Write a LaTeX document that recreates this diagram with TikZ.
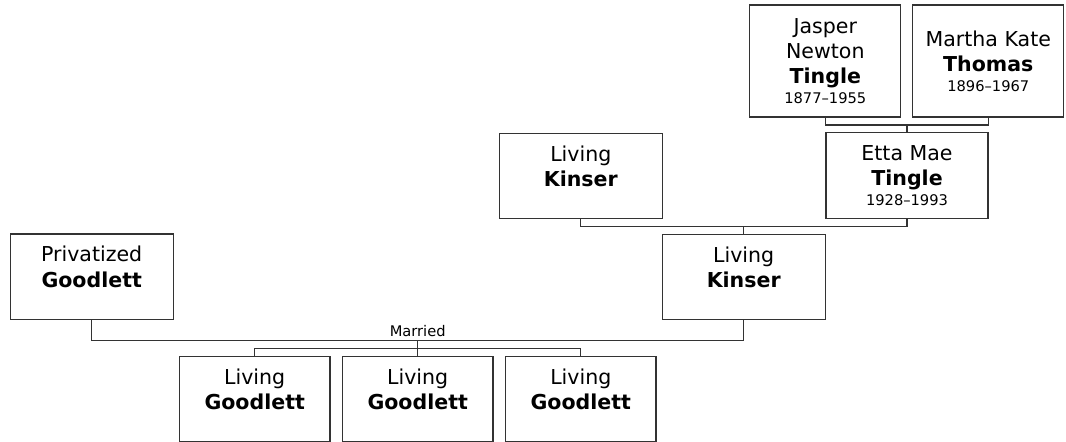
\documentclass[tikz,border=0pt]{standalone}
\usepackage{fontspec}
\setmainfont{DejaVu Sans}
\newcommand\namefont{\fontsize{15.4pt}{18.8pt}\selectfont}
\newcommand\yearfont{\fontsize{11pt}{13pt}\selectfont}
\definecolor{boxline}{HTML}{333333}
\begin{document}
\begin{tikzpicture}[x=0.75pt,y=-0.75pt,
  person/.style={draw=boxline, line width=0.9pt, align=center, font=\namefont,
    minimum width=122.25pt, minimum height=64pt, inner sep=1pt},
  child/.style={person, minimum width=112.9pt},
  elder/.style={person, minimum width=113.2pt, minimum height=84pt},
  link/.style={draw=boxline, line width=0.9pt}]
\useasboundingbox (0,0) rectangle (1066,442);

% grandparents
\node[elder] (jasper) at (825.3,61) {Jasper\\Newton\\\textbf{Tingle}\\[-4pt]{\yearfont 1877--1955}};
\node[elder] (martha) at (988.3,61) {Martha Kate\\\textbf{Thomas}\\[-4pt]{\yearfont 1896--1967}};

% parents
\node[person] (kinserA) at (580.8,175.8) {Living\\\textbf{Kinser}\\[-4pt]{\yearfont\phantom{0}}};
\node[person, minimum width=121.5pt] (etta) at (907,175.5) {Etta Mae\\\textbf{Tingle}\\[-4pt]{\yearfont 1928--1993}};

% couple
\node[person] (privat) at (91.7,276.7) {Privatized\\\textbf{Goodlett}\\[-4pt]{\yearfont\phantom{0}}};
\node[person] (kinserB) at (743.7,276.8) {Living\\\textbf{Kinser}\\[-4pt]{\yearfont\phantom{0}}};

% children
\node[child] (kid1) at (254.7,398.8) {Living\\\textbf{Goodlett}\\[-4pt]{\yearfont\phantom{0}}};
\node[child] (kid2) at (417.7,398.8) {Living\\\textbf{Goodlett}\\[-4pt]{\yearfont\phantom{0}}};
\node[child] (kid3) at (580.8,398.8) {Living\\\textbf{Goodlett}\\[-4pt]{\yearfont\phantom{0}}};

% connectors
\coordinate (bar1) at (907,125);
\draw[link] (jasper.south) |- (bar1) -| (martha.south);
\draw[link] (bar1) -- (etta.north);

\coordinate (bar2) at (743.7,226.7);
\draw[link] (kinserA.south) |- (bar2) -| (etta.south);
\draw[link] (bar2) -- (kinserB.north);

\coordinate (bar3) at (417.7,340.7);
\draw[link] (privat.south) |- (bar3) -| (kinserB.south);
\node[font=\yearfont, anchor=base, inner sep=0pt] (married) at (417.7,336.7) {Married};

\coordinate (bar4) at (417.7,348.3);
\draw[link] (bar3) -- (kid2.north);
\draw[link] (kid1.north) |- (bar4) -| (kid3.north);
\end{tikzpicture}
\end{document}
